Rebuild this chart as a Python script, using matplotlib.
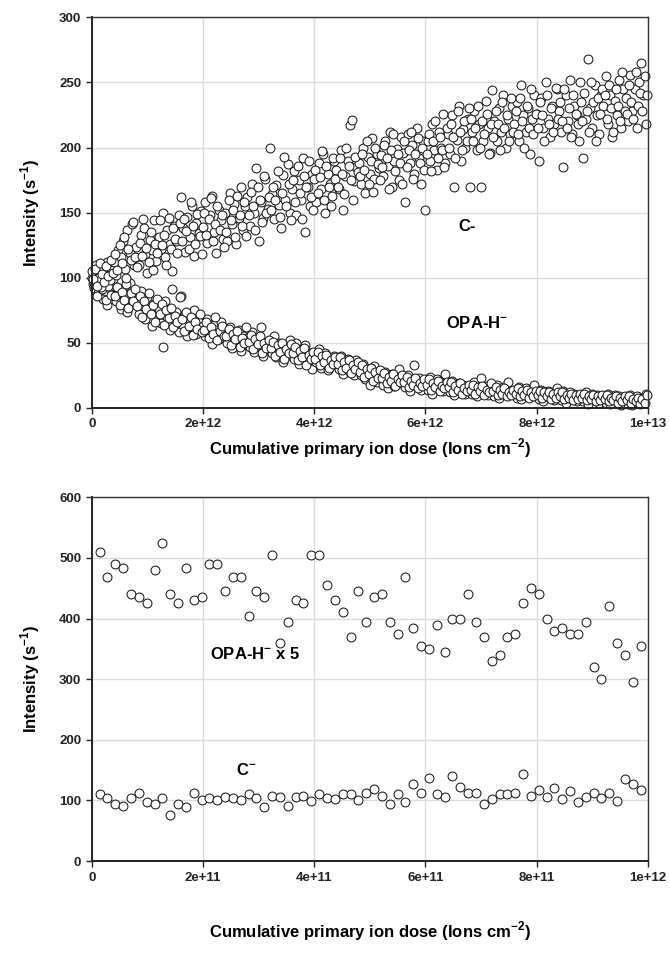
import numpy as np
import matplotlib
matplotlib.use("Agg")
from matplotlib import pyplot as plt

plt.rcParams['font.family'] = ['Liberation Sans', 'DejaVu Sans']
plt.rcParams['mathtext.fontset'] = 'custom'
plt.rcParams['mathtext.bf'] = 'Liberation Sans:bold'
plt.rcParams['mathtext.rm'] = 'Liberation Sans'

## Top panel: long dose run, read at every 4e10 plus the in-between readings
top_step = 4e10
top_c = [
    105, 96, 110, 100, 93, 108, 102, 112, 98, 106,
    112, 102, 121, 116, 128, 107, 137, 119, 141, 110,
    124, 110, 133, 145, 118, 104, 129, 121, 144, 113,
    131, 122, 150, 116, 137, 126, 105, 140, 128, 148,
    162, 138, 120, 147, 131, 155, 117, 142, 134, 151,
    139, 158, 127, 148, 163, 135, 119, 152, 144, 130,
    150, 128, 165, 141, 157, 126, 146, 170, 137, 155,
    162, 140, 172, 150, 184, 128, 158, 146, 176, 153,
    200, 164, 145, 171, 156, 138, 179, 160, 187, 150,
    168, 182, 148, 175, 160, 192, 135, 170, 155, 180,
    176, 158, 188, 168, 195, 150, 180, 172, 163, 190,
    183, 168, 198, 152, 178, 190, 217, 221, 174, 185,
    188, 172, 200, 165, 193, 180, 207, 176, 195, 184,
    194, 178, 205, 186, 212, 170, 190, 199, 175, 208,
    196, 158, 210, 188, 202, 180, 215, 192, 172, 205,
    152, 205, 190, 218, 198, 183, 212, 200, 226, 188,
    210, 195, 225, 170, 206, 232, 190, 214, 200, 222,
    170, 212, 228, 198, 218, 170, 205, 236, 215, 196,
    244, 220, 205, 230, 212, 240, 200, 222, 210, 232,
    218, 235, 205, 248, 225, 212, 230, 195, 222, 240,
    226, 190, 238, 215, 250, 222, 208, 232, 218, 245,
    228, 212, 185, 240, 220, 252, 210, 232, 225, 205,
    235, 192, 222, 268, 230, 215, 248, 225, 210, 240,
    232, 255, 218, 240, 208, 236, 225, 252, 215, 245,
    238, 220, 256, 228, 245, 215, 250, 265, 240, 218,
]
top_c_mid = [
    99, 107, 94, 111, 103, 97, 109, 101, 114, 104,
    118, 106, 125, 111, 131, 100, 122, 114, 143, 116,
    108, 127, 117, 138, 123, 112, 135, 106, 126, 119,
    144, 125, 133, 110, 146, 122, 138, 130, 119, 142,
    128, 145, 136, 122, 158, 140, 126, 149, 132, 118,
    150, 133, 145, 161, 128, 141, 155, 137, 148, 124,
    135, 160, 144, 152, 131, 163, 148, 140, 158, 132,
    148, 166, 155, 137, 170, 160, 143, 178, 150, 162,
    152, 170, 160, 182, 147, 165, 193, 155, 172, 144,
    175, 158, 186, 165, 145, 178, 170, 190, 162, 152,
    183, 165, 177, 197, 160, 186, 170, 155, 192, 176,
    170, 192, 180, 164, 200, 186, 175, 160, 193, 181,
    178, 195, 183, 205, 172, 190, 166, 200, 187, 175,
    185, 202, 192, 168, 198, 210, 182, 195, 188, 172,
    205, 185, 198, 212, 176, 195, 207, 188, 200, 183,
    195, 210, 182, 205, 220, 192, 208, 198, 185, 215,
    200, 218, 208, 192, 228, 212, 198, 220, 205, 230,
    222, 205, 215, 232, 200, 220, 210, 226, 195, 218,
    208, 228, 218, 198, 235, 215, 225, 205, 238, 212,
    228, 210, 238, 220, 200, 232, 215, 245, 210, 226,
    215, 235, 225, 205, 240, 218, 230, 212, 246, 222,
    235, 220, 245, 215, 230, 208, 240, 226, 218, 250,
    220, 242, 228, 212, 250, 235, 205, 238, 226, 245,
    240, 222, 248, 230, 212, 245, 232, 220, 258, 228,
    226, 248, 235, 222, 258, 232, 242, 228, 255, 240,
]
top_opa = [
    100, 92, 106, 88, 97, 84, 103, 79, 95, 90,
    94, 82, 88, 76, 91, 85, 74, 96, 80, 87,
    83, 72, 90, 78, 68, 85, 75, 63, 80, 71,
    76, 65, 47, 82, 70, 60, 91, 68, 74, 58,
    86, 64, 72, 55, 68, 62, 75, 57, 66, 60,
    63, 55, 68, 58, 49, 64, 60, 53, 66, 57,
    58, 50, 62, 46, 56, 52, 60, 44, 55, 49,
    54, 47, 58, 43, 52, 48, 62, 40, 50, 45,
    48, 42, 55, 39, 50, 44, 35, 47, 41, 52,
    45, 38, 50, 34, 44, 40, 48, 36, 42, 30,
    40, 35, 45, 31, 38, 42, 29, 36, 33, 40,
    36, 30, 40, 26, 34, 38, 28, 33, 25, 37,
    31, 25, 34, 22, 29, 18, 27, 32, 20, 26,
    24, 18, 28, 15, 22, 26, 17, 21, 30, 19,
    22, 16, 25, 13, 20, 33, 17, 23, 14, 19,
    20, 14, 24, 11, 18, 22, 15, 19, 13, 26,
    17, 12, 21, 10, 16, 19, 13, 18, 11, 15,
    16, 11, 20, 9, 14, 23, 12, 17, 10, 15,
    14, 9, 18, 8, 13, 16, 10, 20, 12, 11,
    13, 8, 16, 7, 12, 15, 9, 14, 10, 18,
    11, 7, 14, 5, 10, 13, 8, 12, 6, 15,
    10, 6, 13, 4, 9, 12, 7, 11, 5, 8,
    9, 5, 12, 3, 8, 11, 6, 10, 4, 7,
    8, 4, 11, 3, 7, 10, 5, 9, 2, 6,
    7, 3, 10, 2, 6, 9, 4, 8, 5, 11,
]
top_opa_mid = [
    95, 102, 86, 98, 91, 105, 83, 94, 87, 99,
    86, 93, 79, 89, 83, 95, 77, 88, 82, 91,
    78, 86, 70, 82, 76, 88, 72, 79, 66, 84,
    72, 80, 64, 75, 69, 77, 62, 71, 66, 85,
    68, 59, 74, 63, 70, 56, 66, 61, 72, 58,
    60, 66, 54, 62, 57, 70, 52, 59, 63, 55,
    55, 61, 48, 57, 53, 59, 47, 54, 50, 62,
    51, 56, 45, 53, 49, 55, 42, 50, 46, 52,
    46, 51, 40, 48, 43, 50, 38, 45, 42, 49,
    42, 47, 37, 44, 39, 46, 33, 41, 38, 43,
    38, 43, 33, 40, 35, 41, 31, 37, 34, 39,
    34, 39, 29, 35, 31, 37, 27, 33, 30, 35,
    28, 33, 24, 30, 26, 31, 21, 28, 23, 29,
    23, 27, 19, 24, 21, 26, 17, 22, 20, 25,
    20, 24, 16, 21, 18, 23, 15, 19, 17, 22,
    18, 22, 14, 19, 16, 21, 13, 17, 15, 20,
    16, 20, 12, 17, 14, 19, 11, 15, 13, 18,
    14, 18, 11, 16, 13, 17, 10, 14, 12, 19,
    13, 16, 10, 14, 11, 15, 9, 12, 10, 14,
    11, 15, 9, 13, 10, 14, 8, 12, 9, 13,
    10, 13, 8, 12, 9, 12, 7, 11, 8, 12,
    9, 12, 7, 10, 8, 11, 6, 10, 7, 11,
    8, 11, 6, 9, 7, 10, 5, 9, 6, 10,
    7, 10, 5, 8, 6, 9, 4, 8, 5, 9,
    6, 9, 4, 7, 5, 8, 3, 7, 4, 10,
]

## Bottom panel: first 1e12 (step 1.41e10 ions/cm2)
bot_step = 1.41e10
bot_opa5 = [
    510, 469, 490, 484, 440, 435, 425, 480, 524, 440,
    425, 484, 430, 435, 490, 490, 445, 469, 469, 405,
    445, 435, 505, 360, 395, 430, 425, 505, 505, 455,
    430, 410, 370, 445, 395, 435, 440, 395, 375, 469,
    385, 355, 350, 390, 345, 400, 400, 440, 395, 370,
    330, 340, 370, 375, 425, 450, 440, 400, 380, 385,
    375, 375, 395, 320, 300, 420, 360, 340, 295, 355,
]
bot_c = [
    111, 104, 94, 91, 104, 112, 97, 94, 104, 76,
    94, 89, 112, 101, 104, 101, 106, 104, 101, 111,
    104, 90, 108, 105, 91, 105, 108, 99, 111, 104,
    103, 111, 111, 101, 112, 119, 108, 95, 111, 97,
    127, 113, 137, 111, 106, 140, 122, 113, 113, 94,
    103, 111, 111, 113, 143, 107, 117, 105, 121, 102,
    116, 98, 106, 113, 104, 113, 99, 136, 127, 118,
]

top_xticks = [0, 2e12, 4e12, 6e12, 8e12, 1e13]
top_xlabels = ['0', '2e+12', '4e+12', '6e+12', '8e+12', '1e+13']
bot_xticks = [0, 2e11, 4e11, 6e11, 8e11, 1e12]
bot_xlabels = ['0', '2e+11', '4e+11', '6e+11', '8e+11', '1e+12']

xlab = r'Cumulative primary ion dose (Ions cm$^{\mathbf{-2}}$)'
ylab = r'Intensity (s$^{\mathbf{-1}}$)'

def style(ax, xticks, xlabels, ymax, ystep, xpad):
	ax.set_xlim(0, xticks[-1])
	ax.set_ylim(0, ymax)
	ax.set_xticks(xticks)
	ax.set_xticklabels(xlabels)
	ax.set_yticks(np.arange(0, ymax + 1, ystep))
	ax.grid(True, color='#dcdcdc', lw=1.0)
	ax.set_axisbelow(True)
	ax.tick_params(direction='out', length=4, width=1, labelsize=9.5, colors='#222222')
	for lab in ax.get_xticklabels() + ax.get_yticklabels():
		lab.set_fontweight('bold')
	for s in ['left', 'bottom']:
		ax.spines[s].set_linewidth(1.4)
		ax.spines[s].set_color('#222222')
	for s in ['top', 'right']:
		ax.spines[s].set_linewidth(1.0)
		ax.spines[s].set_color('#333333')
	ax.set_xlabel(xlab, fontsize=12, fontweight='bold', labelpad=xpad)
	ax.set_ylabel(ylab, fontsize=12, fontweight='bold', labelpad=12)

mk = dict(ls='none', marker='o', ms=6.4, mfc='white', mec='#1a1a1a', mew=0.75, clip_on=False)

fig = plt.figure(figsize=(6.7, 9.6), dpi=100)

ax1 = fig.add_axes([0.137, 0.575, 0.830, 0.407])
x_main = np.arange(len(top_c)) * top_step
x_mid = x_main + top_step / 2
ax1.plot(np.r_[x_main, x_mid], np.r_[top_opa, top_opa_mid], **mk)
ax1.plot(np.r_[x_main, x_mid], np.r_[top_c, top_c_mid], **mk)
style(ax1, top_xticks, top_xlabels, 300, 50, 4)
ax1.text(6.6e12, 139, 'C-', fontsize=12, fontweight='bold', va='center')
ax1.text(6.37e12, 65, r'OPA-H$^{\mathbf{-}}$', fontsize=12, fontweight='bold', va='center')

ax2 = fig.add_axes([0.137, 0.103, 0.830, 0.379])
x_bot = np.arange(1, len(bot_c) + 1) * bot_step
ax2.plot(x_bot, bot_opa5, **mk)
ax2.plot(x_bot, bot_c, **mk)
style(ax2, bot_xticks, bot_xlabels, 600, 100, 26)
ax2.text(2.12e11, 341, r'OPA-H$^{\mathbf{-}}$ x 5', fontsize=12, fontweight='bold', va='center')
ax2.text(2.6e11, 150, r'C$^{\mathbf{-}}$', fontsize=12, fontweight='bold', va='center')

fig.savefig('out.png', dpi=100)
